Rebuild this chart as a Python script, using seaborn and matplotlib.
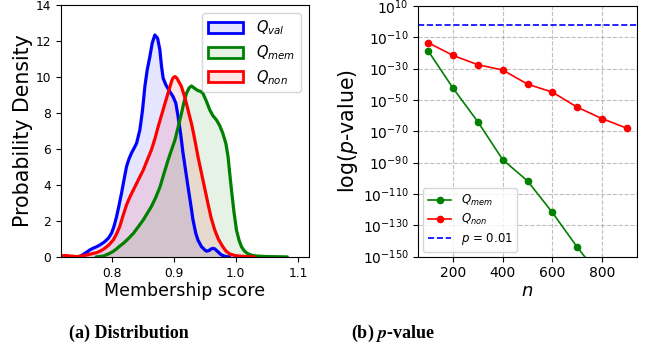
import matplotlib
matplotlib.use("Agg")
import matplotlib.pyplot as plt
from matplotlib.patches import Patch
from matplotlib.ticker import NullLocator, FixedLocator
import seaborn as sns

# ---------------- data ----------------
# (a) density curves of the membership score
val_x = [0.745, 0.750, 0.755, 0.760, 0.765, 0.770, 0.776, 0.782, 0.789, 0.795,
         0.800, 0.804, 0.808, 0.812, 0.816, 0.820, 0.824, 0.828, 0.832, 0.836,
         0.8402, 0.8455, 0.8498, 0.8535, 0.8573, 0.8616, 0.8653, 0.8696, 0.874, 0.8777,
         0.8804, 0.883, 0.8873, 0.8921, 0.899, 0.9034, 0.907, 0.911, 0.915, 0.9194,
         0.923, 0.9275, 0.931, 0.9355, 0.939, 0.9447, 0.950, 0.953, 0.957, 0.960,
         0.963, 0.966, 0.969, 0.972, 0.975, 0.978, 0.982, 0.987, 0.990]
val_y = [0.0, 0.05, 0.15, 0.27, 0.39, 0.48, 0.57, 0.68, 0.85, 1.05,
         1.33, 1.72, 2.24, 2.88, 3.55, 4.3, 5.02, 5.45, 5.77, 6.03,
         6.32, 7.06, 8.17, 9.46, 10.39, 11.13, 11.87, 12.33, 12.15, 11.5,
         10.57, 9.93, 9.56, 9.28, 8.9, 8.54, 7.8, 6.87, 5.76, 4.74,
         3.9, 2.89, 2.06, 1.32, 0.94, 0.57, 0.39, 0.32, 0.36, 0.44,
         0.48, 0.45, 0.36, 0.26, 0.16, 0.09, 0.04, 0.01, 0.0]

mem_x = [0.775, 0.787, 0.797, 0.803, 0.808, 0.813, 0.819, 0.827, 0.835, 0.843,
         0.851, 0.857, 0.864, 0.871, 0.878, 0.884, 0.891, 0.896, 0.902, 0.907,
         0.9125, 0.9165, 0.9206, 0.9245, 0.9286, 0.933, 0.939, 0.943, 0.947, 0.952,
         0.958, 0.963, 0.969, 0.974, 0.979, 0.984, 0.9875, 0.990, 0.993, 0.997,
         1.001, 1.005, 1.009, 1.014, 1.0196, 1.026, 1.033, 1.05, 1.07, 1.083]
mem_y = [0.0, 0.05, 0.2, 0.32, 0.45, 0.6, 0.76, 1.02, 1.31, 1.68,
         2.06, 2.4, 2.8, 3.3, 3.9, 4.6, 5.39, 5.9, 6.5, 7.2,
         7.98, 8.6, 9.09, 9.38, 9.5, 9.38, 9.24, 9.2, 9.09, 8.7,
         8.17, 7.85, 7.6, 7.3, 6.87, 6.3, 5.57, 4.7, 3.72, 2.5,
         1.5, 0.95, 0.57, 0.32, 0.17, 0.09, 0.05, 0.02, 0.01, 0.0]

non_x = [0.718, 0.722, 0.727, 0.733, 0.745, 0.755, 0.765, 0.776, 0.783, 0.789,
         0.796, 0.8026, 0.808, 0.813, 0.818, 0.824, 0.829, 0.835, 0.843, 0.851,
         0.857, 0.864, 0.870, 0.875, 0.881, 0.886, 0.890, 0.894, 0.897, 0.899,
         0.902, 0.905, 0.908, 0.9125, 0.918, 0.923, 0.929, 0.934, 0.939, 0.9447,
         0.950, 0.955, 0.960, 0.966, 0.972, 0.979, 0.984, 0.990, 0.998, 1.006,
         1.02, 1.03]
non_y = [0.03, 0.07, 0.08, 0.05, 0.02, 0.07, 0.15, 0.24, 0.35, 0.48,
         0.68, 0.94, 1.28, 1.68, 2.25, 2.89, 3.3, 3.72, 4.28, 4.83,
         5.35, 5.94, 6.6, 7.24, 7.95, 8.54, 9.0, 9.46, 9.8, 9.95,
         10.02, 9.93, 9.75, 9.46, 8.85, 8.17, 7.35, 6.5, 5.58, 4.65,
         3.8, 2.98, 2.2, 1.5, 0.98, 0.57, 0.33, 0.17, 0.08, 0.05,
         0.01, 0.0]

dist_labels = ["$Q_{val}$", "$Q_{mem}$", "$Q_{non}$"]
dist_colors = ["blue", "green", "red"]

# (b) p-values vs n (log10 exponents)
n_values = [100, 200, 300, 400, 500, 600, 700, 800, 900]
mem_log10p = [-18.8, -42.5, -64.0, -88.1, -101.7, -121.8, -143.9, -164.0, -185.0]
non_log10p = [-13.5, -21.6, -27.5, -30.9, -39.9, -45.0, -54.6, -61.9, -68.0]
p_threshold = 0.01
ytick_exps = [10, -10, -30, -50, -70, -90, -110, -130, -150]

# ---------------- figure ----------------
fig = plt.figure(figsize=(6.49, 3.51), dpi=100)
axL = fig.add_axes([0.094, 0.268, 0.382, 0.718])
axR = fig.add_axes([0.6446, 0.269, 0.3364, 0.714])

# ---- left: distributions ----
handles = []
for xs, ys, lab, col in zip([val_x, mem_x, non_x], [val_y, mem_y, non_y],
                            dist_labels, dist_colors):
    sns.lineplot(x=xs, y=ys, ax=axL, color=col, lw=2.3, sort=False,
                 estimator=None, solid_joinstyle="round", solid_capstyle="round")
    axL.fill_between(xs, ys, 0, color=col, alpha=0.1, lw=0)
    handles.append(Patch(facecolor=matplotlib.colors.to_rgba(col, 0.1),
                         edgecolor=col, lw=2, label=lab))

axL.set_xlim(0.7185, 1.1177)
axL.set_ylim(0, 14)
axL.set_xticks([0.8, 0.9, 1.0, 1.1])
axL.set_yticks([0, 2, 4, 6, 8, 10, 12, 14])
axL.tick_params(labelsize=8.8)
axL.set_xlabel("Membership score", fontsize=12.5, labelpad=2)
axL.set_ylabel("Probability Density", fontsize=14.8, labelpad=2)
axL.legend(handles=handles, loc="upper right", fontsize=10.5,
           handlelength=2.4, handleheight=0.75, labelspacing=0.4,
           borderaxespad=0.55, handletextpad=0.9)

# ---- right: p-values ----
mem_p = [10.0 ** e for e in mem_log10p]
non_p = [10.0 ** e for e in non_log10p]
sns.lineplot(x=n_values, y=mem_p, ax=axR, color="green", marker="o",
             markersize=5.5, mec="green", mew=0, lw=1.2, label="$Q_{mem}$")
sns.lineplot(x=n_values, y=non_p, ax=axR, color="red", marker="o",
             markersize=5.5, mec="red", mew=0, lw=1.2, label="$Q_{non}$")
axR.axhline(p_threshold, color="blue", ls="--", lw=1.2, label="$p$ = 0.01")
axR.set_yscale("log")
axR.set_ylim(1e-150, 1e10)
axR.set_xlim(60, 940)
axR.yaxis.set_major_locator(FixedLocator([10.0 ** e for e in ytick_exps]))
axR.yaxis.set_minor_locator(NullLocator())
axR.set_xticks([200, 400, 600, 800])
axR.tick_params(labelsize=10)
axR.grid(True, ls="--", color="gray", alpha=0.5, lw=0.8)
axR.set_xlabel("$n$", fontsize=13, labelpad=1)
axR.set_ylabel("log($p$-value)", fontsize=14.8, labelpad=2)
axR.legend(loc="lower left", fontsize=8.5, borderaxespad=0.4, labelspacing=0.35)

# ---- captions ----
fig.text(0.199, 0.051, "(a) Distribution", ha="center", va="center",
         fontsize=13, fontweight="bold", family="Liberation Serif")
fig.text(0.605, 0.051, r"(b) $\mathbfit{p}$-value", ha="center", va="center",
         fontsize=13, fontweight="bold", family="Liberation Serif",
         math_fontfamily="stix")

fig.savefig("out.png", dpi=100)
